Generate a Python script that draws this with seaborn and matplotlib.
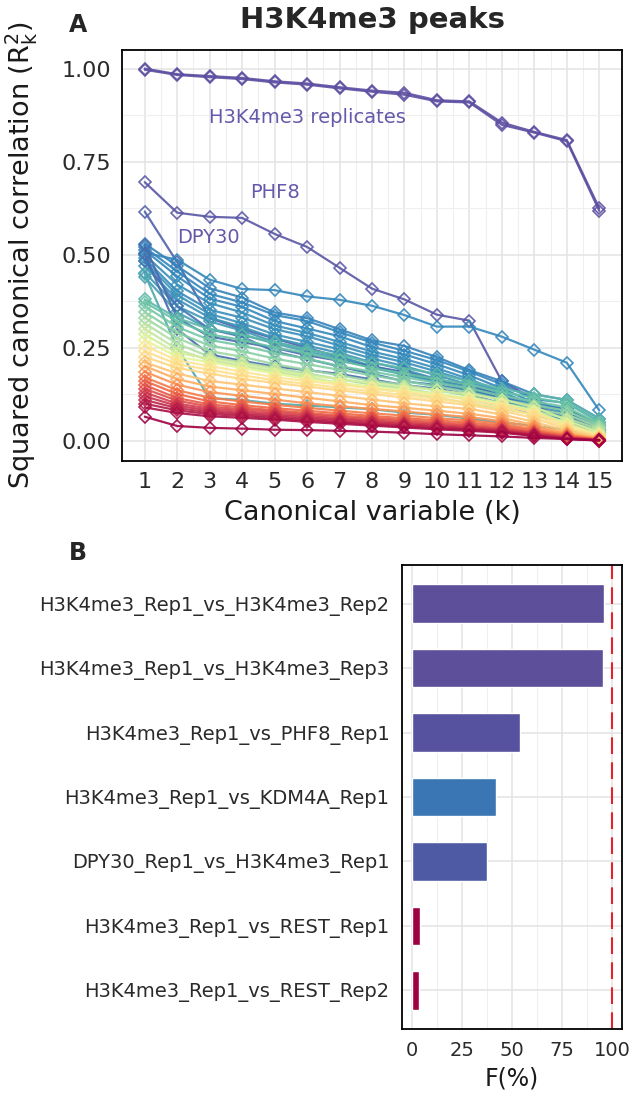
import numpy as np
import pandas as pd
import matplotlib
matplotlib.use("Agg")
import matplotlib.pyplot as plt
import seaborn as sns

# ---------------- data: panel A ----------------
k_values = list(range(1, 16))

# labelled curves
replicate_curves = [
    [1.000, 0.985, 0.980, 0.975, 0.966, 0.960, 0.950, 0.941, 0.935, 0.915, 0.912, 0.855, 0.830, 0.808, 0.625],
    [0.997, 0.983, 0.977, 0.972, 0.963, 0.957, 0.947, 0.938, 0.930, 0.912, 0.909, 0.849, 0.828, 0.805, 0.618],
]
replicate_pos = [1.00, 1.00]

named_curves = [
    [0.695, 0.613, 0.602, 0.599, 0.556, 0.521, 0.465, 0.409, 0.380, 0.339, 0.323, 0.160, 0.112, 0.072, 0.030],  # PHF8
    [0.616, 0.480, 0.330, 0.300, 0.275, 0.250, 0.225, 0.200, 0.180, 0.160, 0.140, 0.110, 0.080, 0.060, 0.030],  # DPY30
    [0.505, 0.487, 0.433, 0.408, 0.405, 0.388, 0.379, 0.363, 0.338, 0.307, 0.307, 0.280, 0.245, 0.210, 0.082],  # KDM4A
]
named_pos = [0.985, 0.965, 0.90]

blue_curves = [
    [0.530, 0.470, 0.410, 0.385, 0.345, 0.330, 0.300, 0.270, 0.255, 0.225, 0.190, 0.160, 0.125, 0.110, 0.060],
    [0.520, 0.455, 0.395, 0.372, 0.338, 0.322, 0.292, 0.264, 0.242, 0.217, 0.186, 0.152, 0.112, 0.102, 0.052],
    [0.512, 0.442, 0.382, 0.360, 0.322, 0.302, 0.281, 0.252, 0.232, 0.206, 0.176, 0.141, 0.102, 0.086, 0.046],
    [0.500, 0.420, 0.370, 0.345, 0.310, 0.290, 0.266, 0.240, 0.220, 0.195, 0.166, 0.131, 0.096, 0.076, 0.040],
    [0.490, 0.402, 0.352, 0.331, 0.300, 0.281, 0.256, 0.231, 0.211, 0.186, 0.160, 0.126, 0.091, 0.066, 0.035],
    [0.482, 0.392, 0.341, 0.316, 0.286, 0.266, 0.246, 0.221, 0.201, 0.176, 0.151, 0.121, 0.086, 0.061, 0.030],
    [0.470, 0.380, 0.331, 0.306, 0.276, 0.256, 0.236, 0.211, 0.191, 0.166, 0.146, 0.111, 0.081, 0.056, 0.026],
    [0.452, 0.362, 0.321, 0.296, 0.266, 0.246, 0.226, 0.201, 0.181, 0.161, 0.141, 0.106, 0.076, 0.051, 0.021],
    [0.440, 0.345, 0.300, 0.285, 0.262, 0.240, 0.220, 0.196, 0.178, 0.158, 0.138, 0.112, 0.090, 0.070, 0.030],
    [0.525, 0.330, 0.280, 0.265, 0.250, 0.230, 0.215, 0.200, 0.185, 0.165, 0.150, 0.120, 0.090, 0.070, 0.030],
    [0.502, 0.300, 0.232, 0.215, 0.200, 0.190, 0.180, 0.165, 0.150, 0.140, 0.125, 0.100, 0.070, 0.050, 0.020],
    [0.483, 0.362, 0.300, 0.280, 0.240, 0.220, 0.200, 0.180, 0.160, 0.150, 0.135, 0.115, 0.095, 0.085, 0.040],
    [0.448, 0.250, 0.115, 0.110, 0.100, 0.095, 0.090, 0.085, 0.076, 0.070, 0.060, 0.050, 0.040, 0.030, 0.015],
]
blue_pos = [0.91, 0.90, 0.90, 0.89, 0.89, 0.88, 0.88, 0.87, 0.86, 0.95, 0.95, 0.93, 0.84]

teal_curves = [
    [0.380, 0.330, 0.300, 0.285, 0.265, 0.245, 0.230, 0.210, 0.195, 0.180, 0.160, 0.140, 0.125, 0.110, 0.060],
    [0.372, 0.322, 0.286, 0.271, 0.251, 0.236, 0.216, 0.196, 0.181, 0.166, 0.151, 0.131, 0.116, 0.101, 0.051],
    [0.362, 0.306, 0.271, 0.256, 0.236, 0.221, 0.201, 0.186, 0.171, 0.156, 0.141, 0.121, 0.106, 0.091, 0.046],
    [0.346, 0.291, 0.256, 0.241, 0.221, 0.206, 0.191, 0.176, 0.161, 0.146, 0.131, 0.111, 0.096, 0.081, 0.041],
    [0.331, 0.276, 0.241, 0.226, 0.206, 0.191, 0.176, 0.161, 0.151, 0.136, 0.121, 0.101, 0.086, 0.071, 0.036],
    [0.316, 0.261, 0.226, 0.211, 0.196, 0.181, 0.166, 0.151, 0.141, 0.126, 0.111, 0.093, 0.079, 0.061, 0.031],
    [0.301, 0.246, 0.216, 0.201, 0.186, 0.171, 0.156, 0.141, 0.131, 0.116, 0.101, 0.086, 0.071, 0.051, 0.026],
]
teal_pos = [0.82, 0.80, 0.78, 0.75, 0.72, 0.69, 0.66]

yellow_curves = [
    [0.286, 0.236, 0.221, 0.206, 0.191, 0.176, 0.166, 0.156, 0.146, 0.136, 0.126, 0.111, 0.091, 0.056, 0.021],
    [0.271, 0.226, 0.211, 0.196, 0.181, 0.166, 0.156, 0.146, 0.136, 0.126, 0.116, 0.101, 0.081, 0.046, 0.018],
    [0.256, 0.216, 0.201, 0.186, 0.171, 0.161, 0.151, 0.141, 0.131, 0.121, 0.111, 0.096, 0.076, 0.041, 0.015],
    [0.241, 0.206, 0.191, 0.176, 0.163, 0.153, 0.143, 0.133, 0.123, 0.113, 0.103, 0.089, 0.069, 0.036, 0.012],
    [0.226, 0.196, 0.181, 0.166, 0.156, 0.146, 0.136, 0.126, 0.116, 0.106, 0.096, 0.081, 0.061, 0.031, 0.010],
]
yellow_pos = [0.63, 0.60, 0.42, 0.40, 0.38]

orange_curves = [
    [0.211, 0.181, 0.161, 0.151, 0.141, 0.131, 0.121, 0.111, 0.101, 0.093, 0.086, 0.071, 0.051, 0.026, 0.008],
    [0.201, 0.166, 0.146, 0.136, 0.126, 0.116, 0.106, 0.096, 0.089, 0.081, 0.073, 0.061, 0.043, 0.021, 0.006],
    [0.186, 0.151, 0.131, 0.121, 0.111, 0.101, 0.093, 0.086, 0.079, 0.071, 0.064, 0.053, 0.037, 0.018, 0.005],
    [0.171, 0.136, 0.116, 0.106, 0.097, 0.089, 0.081, 0.074, 0.068, 0.061, 0.055, 0.046, 0.031, 0.015, 0.004],
    [0.161, 0.126, 0.106, 0.096, 0.088, 0.081, 0.074, 0.067, 0.061, 0.055, 0.049, 0.041, 0.027, 0.013, 0.003],
]
orange_pos = [0.34, 0.30, 0.26, 0.22, 0.19]

red_curves = [
    [0.150, 0.115, 0.098, 0.090, 0.082, 0.075, 0.068, 0.062, 0.056, 0.050, 0.044, 0.036, 0.024, 0.011, 0.003],
    [0.140, 0.108, 0.092, 0.085, 0.078, 0.071, 0.064, 0.058, 0.052, 0.046, 0.040, 0.033, 0.022, 0.010, 0.002],
    [0.130, 0.100, 0.087, 0.080, 0.073, 0.067, 0.060, 0.054, 0.048, 0.043, 0.037, 0.030, 0.020, 0.009, 0.002],
    [0.120, 0.094, 0.082, 0.075, 0.069, 0.063, 0.057, 0.051, 0.045, 0.040, 0.034, 0.028, 0.018, 0.008, 0.002],
    [0.110, 0.088, 0.077, 0.071, 0.065, 0.059, 0.053, 0.047, 0.042, 0.037, 0.032, 0.026, 0.016, 0.007, 0.001],
    [0.100, 0.082, 0.072, 0.067, 0.061, 0.055, 0.050, 0.044, 0.039, 0.034, 0.030, 0.024, 0.015, 0.006, 0.001],
    [0.090, 0.075, 0.066, 0.062, 0.057, 0.051, 0.046, 0.041, 0.036, 0.031, 0.027, 0.022, 0.013, 0.005, 0.001],
    [0.065, 0.040, 0.035, 0.033, 0.030, 0.029, 0.027, 0.025, 0.022, 0.018, 0.015, 0.012, 0.008, 0.005, 0.002],
]
red_pos = [0.16, 0.13, 0.10, 0.08, 0.06, 0.04, 0.02, 0.00]

annotations = [("H3K4me3 replicates", 6.0, 0.868), ("PHF8", 5.0, 0.667), ("DPY30", 2.95, 0.546)]

# ---------------- data: panel B ----------------
pairs = [
    "H3K4me3_Rep1_vs_H3K4me3_Rep2",
    "H3K4me3_Rep1_vs_H3K4me3_Rep3",
    "H3K4me3_Rep1_vs_PHF8_Rep1",
    "H3K4me3_Rep1_vs_KDM4A_Rep1",
    "DPY30_Rep1_vs_H3K4me3_Rep1",
    "H3K4me3_Rep1_vs_REST_Rep1",
    "H3K4me3_Rep1_vs_REST_Rep2",
]
f_percent = [95.8, 95.7, 53.9, 41.8, 37.3, 3.8, 3.7]
bar_colors = ["#5D4F99", "#5D4F99", "#56529F", "#3A76B3", "#4E5BA4", "#9E0142", "#9E0142"]

# ---------------- build figure ----------------
sns.set_style("white")
plt.rcParams["font.family"] = ["DejaVu Sans"]

W, H = 633, 1098
fig = plt.figure(figsize=(W / 100, H / 100), dpi=100)

def ax_rect(l, t, r, b):
    return [l / W, 1 - b / H, (r - l) / W, (b - t) / H]

axA = fig.add_axes(ax_rect(122, 50, 622, 461))
axB = fig.add_axes(ax_rect(402, 565, 622, 1029))

cmap = matplotlib.colormaps["Spectral"]
groups = [
    ("rep", replicate_curves, replicate_pos),
    ("named", named_curves, named_pos),
    ("blue", blue_curves, blue_pos),
    ("teal", teal_curves, teal_pos),
    ("yellow", yellow_curves, yellow_pos),
    ("orange", orange_curves, orange_pos),
    ("red", red_curves, red_pos),
]
rows = []
palette = {}
for gname, curves, poss in groups:
    for i, (vals, p) in enumerate(zip(curves, poss)):
        cid = f"{gname}{i}"
        palette[cid] = cmap(p)
        for k, v in zip(k_values, vals):
            rows.append((cid, k, v))
dfA = pd.DataFrame(rows, columns=["curve", "k", "r2"])
hue_order = list(palette.keys())

sns.lineplot(data=dfA, x="k", y="r2", hue="curve", hue_order=hue_order, palette=palette,
             estimator=None, sort=False, legend=False, ax=axA,
             marker="D", markersize=6.3, linewidth=1.6, alpha=0.9)
for line in axA.lines:
    c = line.get_color()
    line.set_markerfacecolor("none")
    line.set_markeredgecolor(c)
    line.set_markeredgewidth(1.2)

axA.set_xlim(0.3, 15.7)
axA.set_ylim(-0.054, 1.05)
axA.set_xticks(k_values)
axA.set_xticks(np.arange(1.5, 15.5, 1.0), minor=True)
axA.set_yticks([0.0, 0.25, 0.5, 0.75, 1.0])
axA.set_yticklabels(["0.00", "0.25", "0.50", "0.75", "1.00"])
axA.set_yticks([0.125, 0.375, 0.625, 0.875], minor=True)
axA.grid(True, which="major", color="#E3E3E3", linewidth=1.1)
axA.grid(True, which="minor", color="#EFEFEF", linewidth=0.8)
axA.set_axisbelow(True)
axA.tick_params(axis="both", which="major", labelsize=16, length=5, width=1.1,
                color="#333333", pad=3, direction="out", labelcolor="#2a2a2a")
axA.tick_params(axis="both", which="minor", length=0)
axA.set_xlabel("Canonical variable (k)", fontsize=19.5, labelpad=6, color="#1a1a1a")
axA.set_ylabel(r"Squared canonical correlation ($\mathregular{R^2_k}$)", fontsize=19.5, color="#1a1a1a")
axA.yaxis.set_label_coords(-0.165, 0.5)
for s in axA.spines.values():
    s.set_color("black")
    s.set_linewidth(1.3)
for txt, x, y in annotations:
    axA.text(x, y, txt, color="#6459AA", fontsize=14, ha="center", va="center")

# ---------------- panel B ----------------
dfB = pd.DataFrame({"pair": pairs, "F": f_percent})
sns.barplot(data=dfB, y="pair", x="F", hue="pair", palette=bar_colors, order=pairs,
            hue_order=pairs, width=0.6, saturation=1, legend=False, ax=axB, orient="h")
axB.set_xlim(-5, 105)
axB.set_ylim(6.6, -0.6)
axB.set_xticks([0, 25, 50, 75, 100])
axB.set_xticks([12.5, 37.5, 62.5, 87.5], minor=True)
axB.grid(True, which="major", color="#E3E3E3", linewidth=1.1)
axB.grid(True, which="minor", axis="x", color="#EFEFEF", linewidth=0.8)
axB.set_axisbelow(True)
axB.axvline(100, color="#E8202A", linestyle=(0, (8, 4)), linewidth=1.5)
axB.tick_params(axis="both", which="major", labelsize=14, length=5, width=1.1,
                color="#333333", pad=4, direction="out", labelcolor="#2a2a2a")
axB.tick_params(axis="both", which="minor", length=0)
axB.set_xlabel("F(%)", fontsize=17, labelpad=4, color="#1a1a1a")
axB.set_ylabel("")
for s in axB.spines.values():
    s.set_color("black")
    s.set_linewidth(1.3)

# ---------------- figure text ----------------
fig.text(372 / W, 1 - 28 / H, "H3K4me3 peaks", fontsize=21, fontweight="bold",
         ha="center", va="baseline")
fig.text(78 / W, 1 - 32 / H, "A", fontsize=17, fontweight="bold", ha="center", va="baseline")
fig.text(78 / W, 1 - 560 / H, "B", fontsize=17, fontweight="bold", ha="center", va="baseline")

fig.savefig("out.png", dpi=100)
